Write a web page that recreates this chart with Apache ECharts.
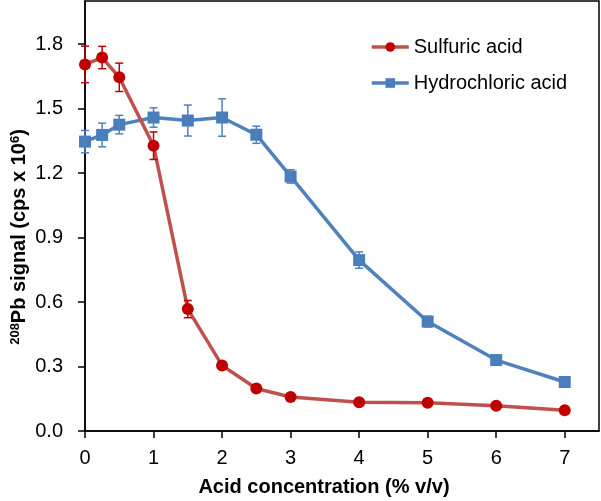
<!DOCTYPE html>
<html>
<head>
<meta charset="utf-8">
<script src="https://cdn.jsdelivr.net/npm/echarts@6/dist/echarts.min.js"></script>
<style>
  html, body { margin: 0; padding: 0; background: #fff; }
  #chart { width: 601px; height: 501px; }
</style>
</head>
<body>
<div id="chart"></div>
<script>
// acid concentration (% v/v)
const conc = [0, 0.25, 0.5, 1, 1.5, 2, 2.5, 3, 4, 5, 6, 7];
// 208Pb signal (cps x 10^6) and standard deviations
const sulfuric = [1.705, 1.737, 1.645, 1.327, 0.567, 0.305, 0.198, 0.158, 0.134, 0.131, 0.117, 0.096];
const sulfuricErr = [0.085, 0.052, 0.066, 0.064, 0.04, 0.014, 0.008, 0.006, 0.005, 0.005, 0.005, 0.004];
const hydrochloric = [1.346, 1.377, 1.425, 1.458, 1.444, 1.458, 1.378, 1.184, 0.795, 0.509, 0.33, 0.228];
const hydrochloricErr = [0.052, 0.055, 0.043, 0.045, 0.072, 0.087, 0.04, 0.031, 0.038, 0.025, 0.01, 0.008];

const xTicks = [0, 1, 2, 3, 4, 5, 6, 7];
const yTicks = [0, 0.3, 0.6, 0.9, 1.2, 1.5, 1.8];

const RED_LINE = "#C0504D", RED_MARK = "#C00000";
const BLUE_LINE = "#4F81BD", BLUE_MARK = "#4A7EBB";
const FONT = "Liberation Sans, Arial, sans-serif";

const pairs = (ys) => conc.map((x, i) => [x, ys[i]]);
const errData = (ys, es) => conc.map((x, i) => [x, ys[i] - es[i], ys[i] + es[i]]);

function errorBars(color) {
  return (params, api) => {
    const x = api.value(0);
    const lo = api.coord([x, api.value(1)]);
    const hi = api.coord([x, api.value(2)]);
    const w = 4;
    const style = { stroke: color, lineWidth: 1.5 };
    return {
      type: "group",
      children: [
        { type: "line", shape: { x1: lo[0], y1: lo[1], x2: hi[0], y2: hi[1] }, style },
        { type: "line", shape: { x1: lo[0] - w, y1: lo[1], x2: lo[0] + w, y2: lo[1] }, style },
        { type: "line", shape: { x1: hi[0] - w, y1: hi[1], x2: hi[0] + w, y2: hi[1] }, style },
      ],
    };
  };
}

const chart = echarts.init(document.getElementById("chart"), null, { renderer: "canvas" });
chart.setOption({
  backgroundColor: "#fff",
  animation: false,
  textStyle: { fontFamily: FONT },
  grid: {
    left: 85, right: 2, top: 1, bottom: 70,
    outerBoundsMode: "none",
    show: true, borderColor: "#000", borderWidth: 1.5,
  },
  legend: {
    orient: "vertical",
    left: 370,
    top: 37,
    padding: 0,
    itemWidth: 37,
    itemHeight: 12,
    itemGap: 16,
    lineStyle: { width: 3.5 },
    textStyle: { fontFamily: FONT, fontSize: 20, color: "#000" },
    data: ["Sulfuric acid", "Hydrochloric acid"],
  },
  xAxis: {
    type: "value",
    min: 0,
    max: 7.5,
    interval: 1,
    name: "Acid concentration (% v/v)",
    nameLocation: "middle",
    nameGap: 46,
    nameMoveOverlap: false,
    nameTextStyle: { fontFamily: FONT, fontSize: 20, fontWeight: "bold", color: "#000", padding: [0, 36, 0, 0] },
    axisLine: { lineStyle: { color: "#000", width: 1.5 } },
    axisTick: { show: true, length: 7, inside: false, customValues: xTicks, lineStyle: { color: "#000", width: 1.5 } },
    axisLabel: { customValues: xTicks, margin: 17, fontFamily: FONT, fontSize: 20, color: "#000" },
    splitLine: { show: false },
  },
  yAxis: {
    type: "value",
    min: 0,
    max: 2.0,
    interval: 0.3,
    name: "{sup|208}Pb signal (cps x 10{sup|6})",
    nameLocation: "middle",
    nameGap: 55,
    nameMoveOverlap: false,
    nameTextStyle: {
      fontFamily: FONT, fontSize: 20, fontWeight: "bold", color: "#000", padding: [0, 42, 0, 0],
      rich: { sup: { fontFamily: FONT, fontSize: 13, fontWeight: "bold", color: "#000", verticalAlign: "top", padding: [0, 0, 8, 0] } },
    },
    axisLine: { lineStyle: { color: "#000", width: 1.5 } },
    axisTick: { show: true, length: 7, customValues: yTicks, lineStyle: { color: "#000", width: 1.5 } },
    axisLabel: { customValues: yTicks, margin: 22, fontFamily: FONT, fontSize: 20, color: "#000", formatter: (v) => v.toFixed(1) },
    splitLine: { show: false },
  },
  series: [
    {
      name: "Hydrochloric acid",
      type: "line",
      data: pairs(hydrochloric),
      symbol: "rect",
      symbolSize: 12,
      lineStyle: { color: BLUE_LINE, width: 3.5 },
      itemStyle: { color: BLUE_MARK },
      z: 2,
    },
    {
      name: "Sulfuric acid",
      type: "line",
      data: pairs(sulfuric),
      symbol: "circle",
      symbolSize: 12,
      lineStyle: { color: RED_LINE, width: 3.5 },
      itemStyle: { color: RED_MARK },
      z: 3,
    },
    {
      type: "custom",
      data: errData(hydrochloric, hydrochloricErr),
      renderItem: errorBars(BLUE_LINE),
      encode: { x: 0, y: [1, 2] },
      silent: true,
      z: 4,
    },
    {
      type: "custom",
      data: errData(sulfuric, sulfuricErr),
      renderItem: errorBars(RED_MARK),
      encode: { x: 0, y: [1, 2] },
      silent: true,
      z: 4,
    },
  ],
});
</script>
</body>
</html>
